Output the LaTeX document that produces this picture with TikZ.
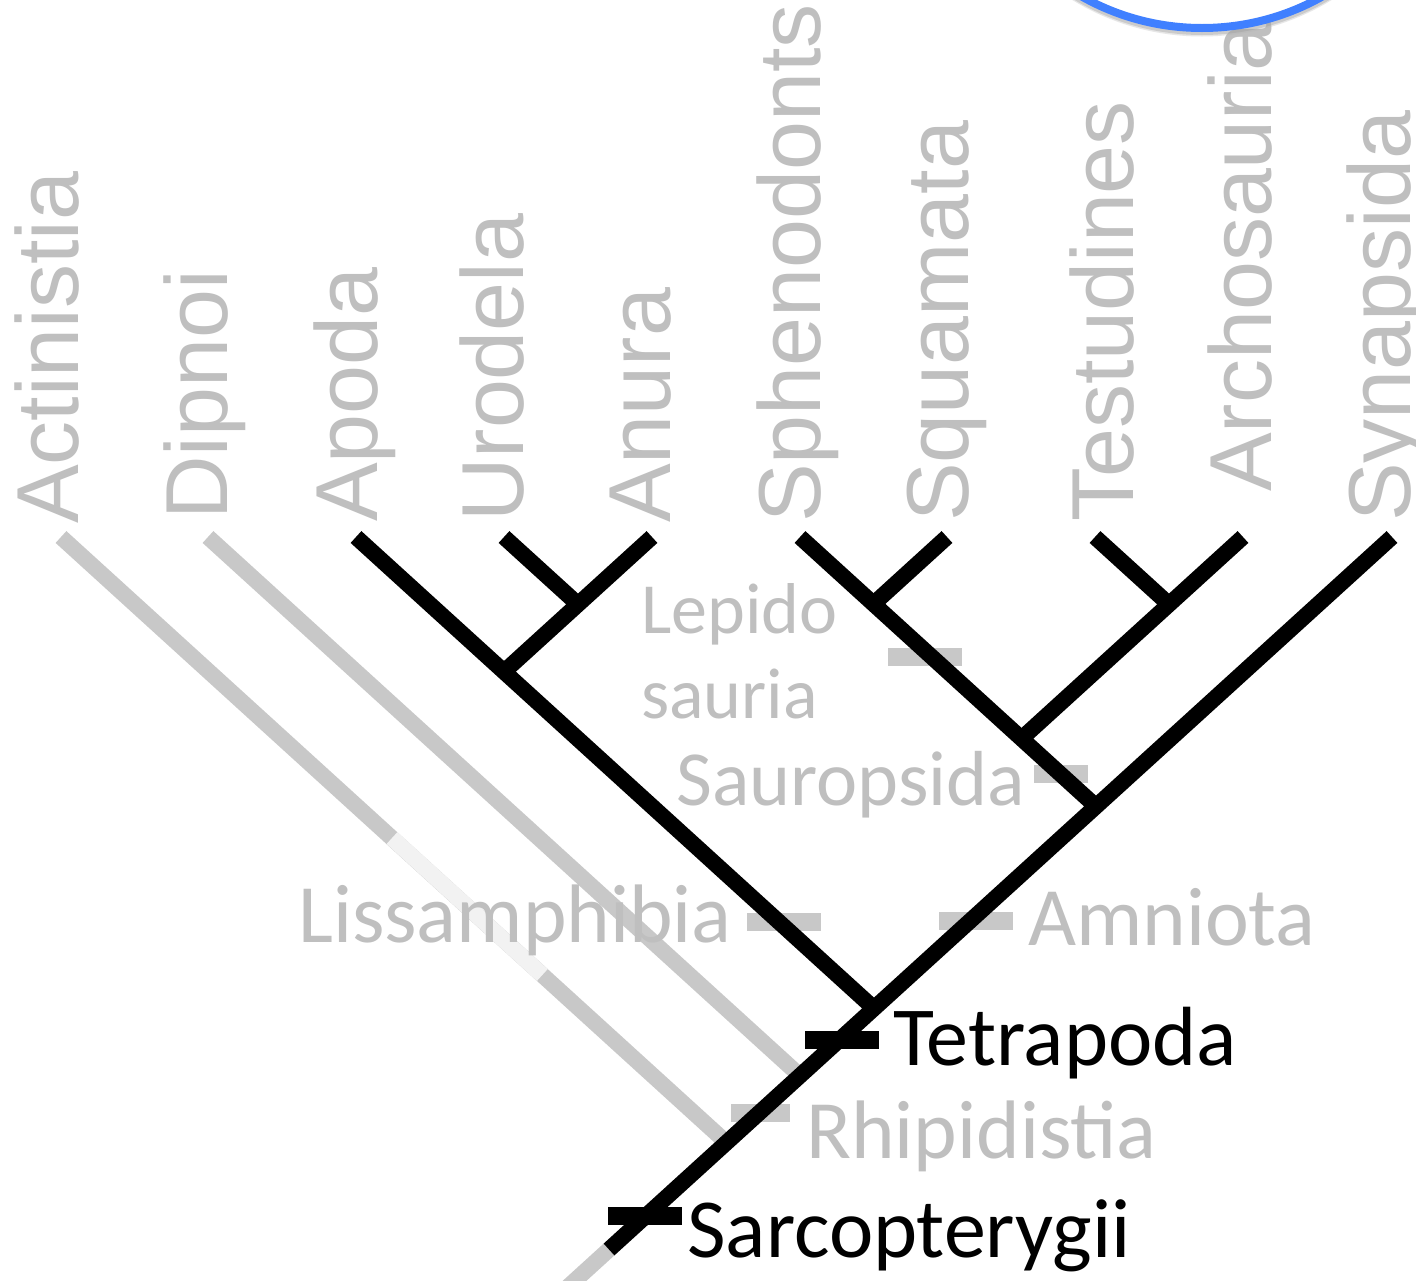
\documentclass[tikz,border=0pt]{standalone}
\usepackage{fontspec}
\setmainfont{Carlito}
\newfontfamily\taxonfont{Liberation Sans}
\definecolor{branchgray}{HTML}{C8C8C8}
\definecolor{textgray}{HTML}{BFBFBF}
\definecolor{palegray}{HTML}{F2F2F2}
\definecolor{ringblue}{HTML}{4080FF}
\begin{document}
\begin{tikzpicture}[x=1pt,y=-1pt,
  clade/.style={line width=16pt},
  faded/.style={line width=16pt,draw=branchgray},
  tick/.style={fill,minimum width=74pt,minimum height=18pt,inner sep=0pt},
  greytick/.style={tick,fill=branchgray},
  taxon/.style={rotate=90,anchor=base west,inner sep=0pt,text=textgray,
    font=\taxonfont\fontsize{88}{88}\selectfont},
  group/.style={anchor=base west,inner sep=0pt,font=\fontsize{84}{84}\selectfont},
  subgroup/.style={group,text=textgray,font=\fontsize{83}{83}\selectfont}]
\clip (0,0) rectangle (1416,1280);
\fill[white] (0,0) rectangle (1416,1280);
% tips
\coordinate (act) at (61,537);  \coordinate (dip) at (208,537);
\coordinate (apo) at (356,537); \coordinate (uro) at (504,537);
\coordinate (anu) at (652,537); \coordinate (sph) at (800,537);
\coordinate (squ) at (947,537); \coordinate (tes) at (1095,537);
\coordinate (arc) at (1243,537);\coordinate (syn) at (1392,537);
% inner nodes
\coordinate (batN) at (578,604.3);  \coordinate (lisN) at (504,671.7);
\coordinate (tetN) at (874,1008.4); \coordinate (ripN) at (800,1075.7);
\coordinate (sarN) at (726.5,1142.6);
\coordinate (lepN) at (873.5,603.9); \coordinate (tstN) at (1169,604.3);
\coordinate (archN) at (1021.5,738.6); \coordinate (sauN) at (1096,806.4);
\coordinate (root) at (609,1249.5); \coordinate (stem) at (540,1312.3);
\coordinate (paleA) at (392,838); \coordinate (paleB) at (542.3,975);
% fish lineages
\draw[faded] (act) -- (sarN);
\draw[faded] (dip) -- (ripN);
\draw[faded] (root) -- (stem);
\draw[line width=16pt,draw=palegray] (paleA) -- (paleB);
% grey marks
\node[greytick,minimum width=59pt] (ripBar) at (760,1113) {};
\node[greytick] (lisBar) at (784,922) {};
\node[greytick] (amnBar) at (976,921) {};
\node[greytick] (lepBar) at (925,657) {};
\node[greytick,minimum width=54pt] (sauBar) at (1061,774) {};
% tetrapods
\draw[clade] (syn) -- (root);
\draw[clade] (apo) -- (tetN);
\draw[clade] (anu) -- (lisN);
\draw[clade] (uro) -- (batN);
\draw[clade] (sph) -- (sauN);
\draw[clade] (squ) -- (lepN);
\draw[clade] (arc) -- (archN);
\draw[clade] (tes) -- (tstN);
\node[tick] (tetBar) at (842,1040) {};
\node[tick] (sarBar) at (645,1216) {};
% taxa
\node[taxon] (actLbl) at (78,524) {Actinistia};
\node[taxon] (dipLbl) at (227,520) {Dipnoi};
\node[taxon] (apoLbl) at (377,522) {Apoda};
\node[taxon] (uroLbl) at (523,522) {Urodela};
\node[taxon] (anuLbl) at (670,523) {Anura};
\node[taxon] (sphLbl) at (820,523) {Sphenodonts};
\node[taxon] (squLbl) at (968,522) {Squamata};
\node[taxon] (tesLbl) at (1133,522) {Testudines};
\node[taxon] (arcLbl) at (1271,492) {Archosauria};
\node[taxon] (synLbl) at (1410,522) {Synapsida};
% groups
\node[group] (tetLbl) at (893,1065) {Tetrapoda};
\node[group] (sarLbl) at (687,1257) {Sarcopterygii};
\node[subgroup] (ripLbl) at (806,1158) {Rhipidistia};
\node[subgroup] (amnLbl) at (1028,945) {Amniota};
\node[subgroup] (lisLbl) at (298,942) {Lissamphibia};
\node[subgroup,font=\fontsize{78}{78}\selectfont] (sauLbl) at (676,805) {Sauropsida};
\node[subgroup,font=\fontsize{72}{72}\selectfont] (lepLbl) at (641,633) {Lepido};
\node[subgroup,font=\fontsize{72}{72}\selectfont] (lepLblB) at (641,718) {sauria};
% highlight ring
\draw[line width=9pt,black!30,opacity=.3] (1202,-212) circle (244pt);
\draw[line width=8pt,black!40,opacity=.35] (1202,-214) circle (245pt);
\draw[line width=8pt,ringblue] (1202,-217) circle (245pt);
\end{tikzpicture}
\end{document}
